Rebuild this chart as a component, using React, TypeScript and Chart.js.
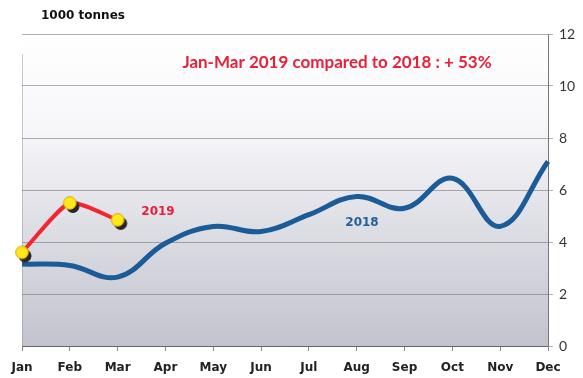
import React, { useEffect, useRef } from "react";
import { Chart, registerables } from "chart.js";

Chart.register(...registerables);

const months = ["Jan", "Feb", "Mar", "Apr", "May", "Jun", "Jul", "Aug", "Sep", "Oct", "Nov", "Dec"];
const values2018 = [3.15, 3.1, 2.65, 3.95, 4.6, 4.4, 5.05, 5.75, 5.3, 6.45, 4.6, 7.1];
const values2019 = [3.6, 5.5, 4.85];
const yMin = 0;
const yMax = 12;
const yStep = 2;
const unitText = "1000 tonnes";
const titleText = "Jan-Mar 2019 compared to 2018 : + 53%";
const label2019 = "2019";
const label2018 = "2018";

function makeMarker(): HTMLCanvasElement {
  const c = document.createElement("canvas");
  c.width = 28;
  c.height = 28;
  const g = c.getContext("2d")!;
  g.fillStyle = "#252525";
  g.beginPath();
  g.arc(17, 17.5, 6.5, 0, Math.PI * 2);
  g.fill();
  g.fillStyle = "#ffe81a";
  g.strokeStyle = "#d9a400";
  g.lineWidth = 1;
  g.beginPath();
  g.arc(14, 14, 6.3, 0, Math.PI * 2);
  g.fill();
  g.stroke();
  return c;
}

const bgPlugin = {
  id: "bgPlugin",
  beforeDraw(chart: any) {
    const { ctx, chartArea } = chart;
    const { left, right, top, bottom } = chartArea;
    const grad = ctx.createLinearGradient(0, top, 0, bottom);
    grad.addColorStop(0, "#ffffff");
    grad.addColorStop(0.3, "#f7f7fa");
    grad.addColorStop(0.6, "#dfdfe6");
    grad.addColorStop(1, "#c2c3cc");
    ctx.save();
    ctx.fillStyle = grad;
    ctx.fillRect(left, top, right - left, bottom - top);
    ctx.strokeStyle = "rgba(150,150,160,0.5)";
    ctx.lineWidth = 1;
    ctx.beginPath();
    ctx.moveTo(left + 0.5, top + 20);
    ctx.lineTo(left + 0.5, bottom);
    ctx.stroke();
    ctx.restore();
  },
};

const textPlugin = {
  id: "textPlugin",
  afterDraw(chart: any) {
    const { ctx } = chart;
    ctx.save();
    ctx.textBaseline = "middle";
    ctx.textAlign = "left";
    ctx.fillStyle = "#111";
    ctx.font = "bold 12px 'DejaVu Sans'";
    ctx.fillText(unitText, 41, 16);

    ctx.textAlign = "center";
    ctx.fillStyle = "#e8203a";
    ctx.font = "bold 17px Lato";
    ctx.fillText(titleText, 337, 63);

    ctx.font = "bold 12px 'DejaVu Sans'";
    ctx.fillStyle = "#e8203a";
    ctx.fillText(label2019, 158, 212);
    ctx.fillStyle = "#23609c";
    ctx.fillText(label2018, 362, 223);
    ctx.restore();
  },
};

export default function App() {
  const ref = useRef<HTMLCanvasElement | null>(null);

  useEffect(() => {
    if (!ref.current) return;
    const marker = makeMarker();
    const chart = new Chart(ref.current, {
      type: "line",
      data: {
        labels: months,
        datasets: [
          {
            label: label2019,
            data: values2019,
            borderColor: "#f2262e",
            borderWidth: 4,
            tension: 0.2,
            pointStyle: marker as any,
            pointRadius: 7,
            fill: false,
            order: 0,
          },
          {
            label: label2018,
            data: values2018,
            borderColor: "#1b5b97",
            borderWidth: 5,
            tension: 0.4,
            pointRadius: 0,
            fill: false,
            order: 1,
          },
        ],
      },
      options: {
        animation: false,
        responsive: true,
        maintainAspectRatio: false,
        layout: { padding: { left: 22, top: 34, right: 0, bottom: 0 } },
        plugins: {
          legend: { display: false },
          tooltip: { enabled: false },
          title: { display: false },
        },
        scales: {
          x: {
            type: "category",
            offset: false,
            grid: { drawOnChartArea: false, drawTicks: true, tickLength: 5, color: "#888" },
            border: { display: true, color: "#666" },
            ticks: {
              font: { family: "DejaVu Sans", weight: "bold", size: 12 },
              color: "#222",
              padding: 10,
              maxRotation: 0,
              autoSkip: false,
            },
            afterFit(s: any) {
              s.height = 32;
            },
          },
          y: {
            position: "right",
            min: yMin,
            max: yMax,
            ticks: {
              stepSize: yStep,
              font: { family: "Lato", size: 14 },
              color: "#333",
              padding: 6,
            },
            grid: { color: "rgba(110,110,115,0.55)", tickLength: 5 },
            border: { display: true, color: "#777" },
            afterFit(s: any) {
              s.width = 35;
            },
          },
        },
      },
      plugins: [bgPlugin, textPlugin],
    });
    return () => chart.destroy();
  }, []);

  return (
    <div style={{ position: "fixed", left: 0, top: 0, width: 583, height: 378, background: "#fff" }}>
      <canvas ref={ref} />
    </div>
  );
}
